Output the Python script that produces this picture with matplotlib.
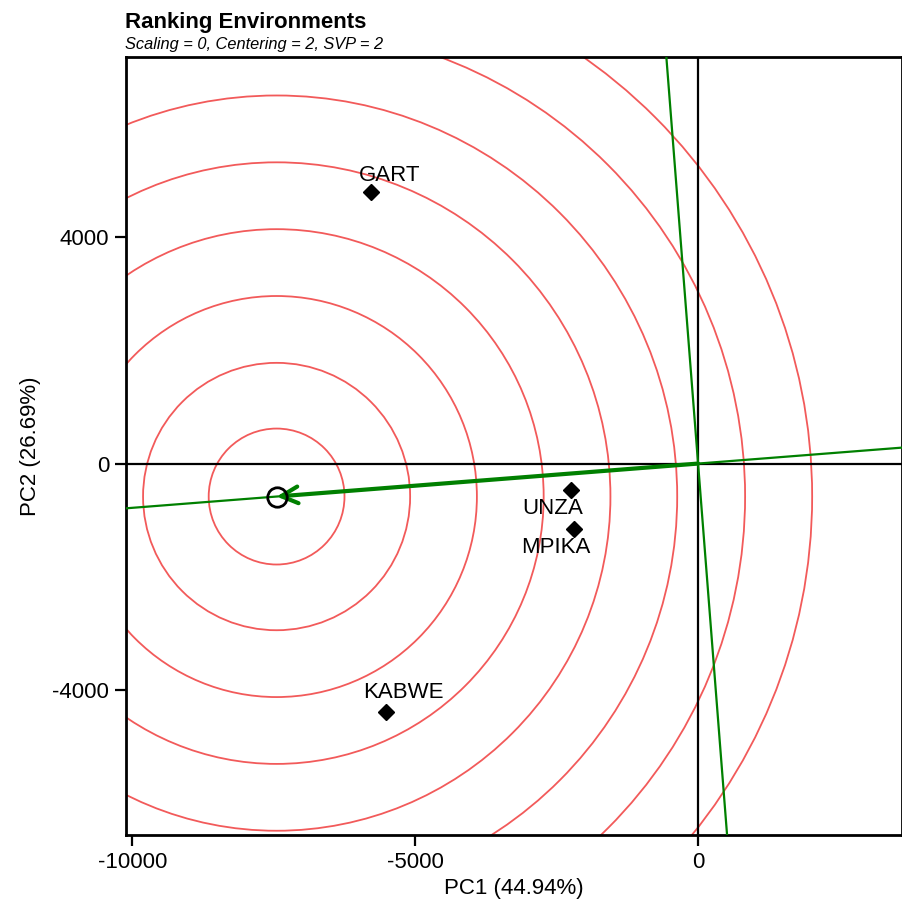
import matplotlib.pyplot as plt
from matplotlib.patches import Circle

plt.rcParams['font.family'] = ['Liberation Sans', 'DejaVu Sans']
plt.rcParams['axes.unicode_minus'] = False

# environment scores (PC1, PC2)
env_names = ['GART', 'UNZA', 'MPIKA', 'KABWE']
pc1 = [-5788, -2249, -2196, -5518]
pc2 = [4790, -466, -1159, -4381]

# average environment / ideal point and the concentric rings around it
aea = (-7449, -582)
ring_radii = [1200, 2360, 3540, 4720, 5900, 7080, 8280, 9465]

xlim = (-10111, 3604)
ylim = (-6557, 7177)

fig = plt.figure(figsize=(9.03, 9.08), dpi=100)
ax = fig.add_axes([0.1395, 0.0804, 0.8594, 0.8568])

for r in ring_radii:
    ax.add_patch(Circle(aea, r, fill=False, ec='#f25a5a', lw=1.3, zorder=1))

ax.axhline(0, color='black', lw=1.6, zorder=2)
ax.axvline(0, color='black', lw=1.6, zorder=2)

# AEA line through origin and its perpendicular
slope = aea[1] / aea[0]
ax.plot(xlim, [slope * xlim[0], slope * xlim[1]], color='green', lw=1.6, zorder=3)
ax.plot([-ylim[0] * slope, -ylim[1] * slope], ylim, color='green', lw=1.6, zorder=3)

# arrow from origin to the average environment
ax.annotate('', xy=aea, xytext=(0, 0),
            arrowprops=dict(arrowstyle='->', color='green', lw=3,
                            mutation_scale=30, shrinkA=0, shrinkB=0),
            zorder=4)
ax.plot(aea[0], aea[1], 'o', mfc='none', mec='black', mew=2, ms=14, zorder=5)

ax.plot(pc1, pc2, 'D', color='black', ms=8, zorder=6)
offsets = [(19, 17), (-18, -19), (-18, -18), (18, 19)]
for name, x, y, off in zip(env_names, pc1, pc2, offsets):
    ax.annotate(name, (x, y), xytext=off, textcoords='offset pixels',
                ha='center', va='center', fontsize=16, zorder=7)

ax.set_xlim(xlim)
ax.set_ylim(ylim)
ax.set_xticks([-10000, -5000, 0])
ax.set_yticks([-4000, 0, 4000])
ax.tick_params(length=8, width=1.6, labelsize=16, pad=4)
for s in ax.spines.values():
    s.set_linewidth(2)

ax.set_xlabel('PC1 (44.94%)', fontsize=16, labelpad=4)
ax.set_ylabel('PC2 (26.69%)', fontsize=16, labelpad=8)

fig.text(0.138, 0.969, 'Ranking Environments', fontsize=16, fontweight='bold',
         ha='left', va='baseline')
fig.text(0.138, 0.946, 'Scaling = 0, Centering = 2, SVP = 2', fontsize=11.8,
         style='italic', ha='left', va='baseline')

fig.savefig('out.png', dpi=100)
